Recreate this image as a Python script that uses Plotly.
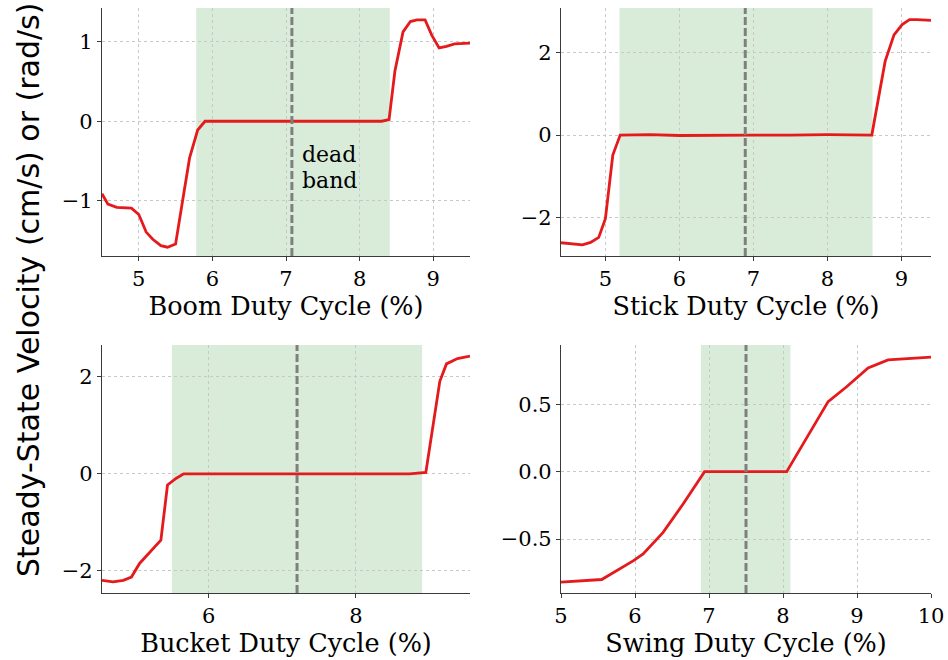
import plotly.graph_objects as go

# Steady-state velocity vs. duty cycle for each excavator joint
boom_duty = [4.50, 4.58, 4.70, 4.90, 5.00, 5.10, 5.19, 5.30, 5.39, 5.50, 5.60, 5.69, 5.80, 5.90,
             6.50, 7.00, 7.50, 8.00, 8.30, 8.40, 8.48, 8.59, 8.69, 8.78, 8.89, 8.98, 9.08, 9.18,
             9.29, 9.50]
boom_vel = [-0.91, -1.04, -1.08, -1.09, -1.17, -1.39, -1.48, -1.56, -1.58, -1.54, -0.97, -0.46,
            -0.11, 0.00, 0.00, 0.00, 0.00, 0.00, 0.00, 0.02, 0.63, 1.12, 1.25, 1.27, 1.27, 1.08,
            0.92, 0.94, 0.97, 0.98]

stick_duty = [4.40, 4.69, 4.80, 4.91, 5.00, 5.10, 5.20, 5.60, 6.00, 6.50, 7.00, 7.50, 8.00,
              8.60, 8.78, 8.90, 9.01, 9.11, 9.21, 9.40]
stick_vel = [-2.60, -2.65, -2.59, -2.47, -2.02, -0.48, 0.00, 0.01, -0.01, 0.00, 0.00, 0.00,
             0.01, 0.00, 1.78, 2.42, 2.67, 2.79, 2.79, 2.77]

bucket_duty = [4.55, 4.70, 4.84, 4.95, 5.06, 5.35, 5.44, 5.56, 5.66, 6.50, 7.50, 8.73, 8.95,
               9.04, 9.14, 9.23, 9.38, 9.55]
bucket_vel = [-2.20, -2.23, -2.20, -2.13, -1.85, -1.37, -0.23, -0.09, 0.00, 0.00, 0.00, 0.00,
              0.03, 0.91, 1.91, 2.27, 2.38, 2.43]

swing_duty = [5.00, 5.55, 5.98, 6.11, 6.38, 6.65, 6.94, 7.50, 8.05, 8.33, 8.61, 8.86, 9.15,
              9.42, 10.00]
swing_vel = [-0.82, -0.80, -0.66, -0.61, -0.45, -0.24, 0.00, 0.00, 0.00, 0.26, 0.52, 0.63,
             0.77, 0.83, 0.85]

# Dead band limits and centre for each joint
band_lo = [5.78, 5.19, 5.50, 6.89]
band_hi = [8.41, 8.61, 8.90, 8.10]
band_mid = [7.08, 6.89, 7.20, 7.50]

x_titles = ["Boom Duty Cycle (%)", "Stick Duty Cycle (%)",
            "Bucket Duty Cycle (%)", "Swing Duty Cycle (%)"]
x_ranges = [[4.5, 9.5], [4.4, 9.4], [4.55, 9.55], [5.0, 10.0]]
y_ranges = [[-1.69, 1.42], [-2.92, 3.07], [-2.46, 2.66], [-0.90, 0.94]]
x_dticks = [1, 1, 2, 1]
y_dticks = [1, 2, 2, 0.5]
y_formats = ["d", "d", "d", ".1f"]

series = [(boom_duty, boom_vel), (stick_duty, stick_vel),
          (bucket_duty, bucket_vel), (swing_duty, swing_vel)]

W, H = 948, 660
x_domains = [[102 / W, 470 / W], [561 / W, 931 / W], [102 / W, 470 / W], [561 / W, 931 / W]]
y_domains = [[1 - 256 / H, 1 - 8 / H], [1 - 256 / H, 1 - 8 / H],
             [1 - 593 / H, 1 - 345 / H], [1 - 593 / H, 1 - 345 / H]]

SERIF = "DejaVu Serif"
RED = "#e41a1c"

fig = go.Figure()
shapes = []
layout_axes = {}

for i, (xs, ys) in enumerate(series):
    n = "" if i == 0 else str(i + 1)
    xa, ya = "x" + n, "y" + n
    fig.add_trace(go.Scatter(x=xs, y=ys, mode="lines", xaxis=xa, yaxis=ya,
                             line=dict(color=RED, width=2.8), showlegend=False,
                             hoverinfo="skip"))
    shapes.append(dict(type="rect", xref=xa, yref=ya + " domain", x0=band_lo[i], x1=band_hi[i],
                       y0=0, y1=1, fillcolor="rgba(0,128,0,0.15)", line_width=0,
                       layer="below"))
    shapes.append(dict(type="line", xref=xa, yref=ya + " domain", x0=band_mid[i],
                       x1=band_mid[i], y0=0, y1=1,
                       line=dict(color="#7f7f7f", width=3, dash="8px,3px"), layer="above"))
    common = dict(showline=True, linecolor="#3a3a3a", linewidth=1.2, mirror=False,
                  ticks="outside", ticklen=4, tickwidth=1, tickcolor="#3a3a3a",
                  showgrid=True, gridcolor="#c8c8c8", gridwidth=1, griddash="3px,3px",
                  zeroline=False, automargin=False,
                  tickfont=dict(family=SERIF, size=21, color="black"))
    layout_axes["xaxis" + n] = dict(common, domain=x_domains[i], range=x_ranges[i],
                                    anchor=ya, dtick=x_dticks[i], tick0=0,
                                    title=dict(text=x_titles[i], standoff=4,
                                               font=dict(family=SERIF, size=25.5,
                                                         color="black")))
    layout_axes["yaxis" + n] = dict(common, domain=y_domains[i], range=y_ranges[i],
                                    anchor=xa, dtick=y_dticks[i], tick0=0,
                                    tickformat=y_formats[i])

fig.update_layout(**layout_axes)
fig.update_layout(
    width=W, height=H, margin=dict(l=0, r=0, t=0, b=0),
    paper_bgcolor="white", plot_bgcolor="white",
    shapes=shapes,
    annotations=[
        dict(text="dead", x=7.19, y=-0.42, xref="x", yref="y", showarrow=False,
             xanchor="left", yanchor="middle",
             font=dict(family=SERIF, size=22, color="black")),
        dict(text="band", x=7.19, y=-0.74, xref="x", yref="y", showarrow=False,
             xanchor="left", yanchor="middle",
             font=dict(family=SERIF, size=22, color="black")),
        dict(text="Steady-State Velocity (cm/s) or (rad/s)", x=28 / W, y=1 - 290 / H,
             xref="paper", yref="paper", showarrow=False, textangle=-90,
             xanchor="center", yanchor="middle",
             font=dict(family="DejaVu Sans", size=30, color="black")),
    ],
)

fig.write_html("out.html")
